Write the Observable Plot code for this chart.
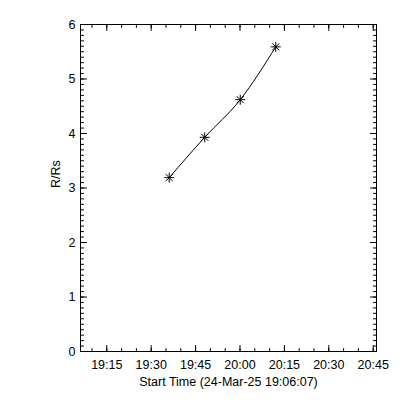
<!DOCTYPE html>
<html><head><meta charset="utf-8">
<script src="https://cdn.jsdelivr.net/npm/d3@7"></script>
<script src="https://cdn.jsdelivr.net/npm/@observablehq/plot@0.6"></script>
<style>html,body{margin:0;padding:0;background:#fff}</style>
</head><body><div id="chart"></div>
<script>
// ---- data ----
const dayPrefix = "2025-03-24T";
const startTime = "19:06:07";
const endTime = "20:46:07";
const times = ["19:36:05", "19:48:05", "20:00:05", "20:12:05"];
const heights = [3.19, 3.93, 4.62, 5.59];
const xTickLabels = ["19:15", "19:30", "19:45", "20:00", "20:15", "20:30", "20:45"];
const yTickLabels = ["0", "1", "2", "3", "4", "5", "6"];
const xTitle = "Start Time (24-Mar-25 19:06:07)";
const yTitle = "R/Rs";

const toDate = (s) => new Date(dayPrefix + (s.length === 5 ? s + ":00" : s) + "Z");
const data = times.map((t, i) => ({time: toDate(t), r: heights[i]}));
const xMajor = xTickLabels.map(toDate);
const xMinor = d3.utcMinute.every(5).range(toDate(startTime), toDate(endTime));
const yMajor = yTickLabels.map(Number);
const yMinor = d3.range(0, 61).map((i) => i / 10);

const tickShape = {draw(ctx, l) { ctx.moveTo(0, 0); ctx.lineTo(0, -l); }};
const asterisk = {
  draw(ctx, size) {
    const r = Math.sqrt(size / Math.PI);
    const d = r * Math.SQRT1_2;
    ctx.moveTo(-r, 0); ctx.lineTo(r, 0);
    ctx.moveTo(0, -r); ctx.lineTo(0, r);
    ctx.moveTo(-d, -d); ctx.lineTo(d, d);
    ctx.moveTo(-d, d); ctx.lineTo(d, -d);
  }
};

const font = "Liberation Sans";
const fs = 12.5;
const tick = (arr, opts) => Plot.vector(arr, {anchor: "start", shape: tickShape, stroke: "black", strokeWidth: 1, ...opts});

const chart = Plot.plot({
  width: 400,
  height: 400,
  marginLeft: 80,
  marginRight: 24,
  marginTop: 24,
  marginBottom: 49,
  style: {fontFamily: font, fontSize: fs + "px", background: "#fff", color: "black"},
  x: {type: "utc", domain: [toDate(startTime), toDate(endTime)], axis: null},
  y: {domain: [0, 6], axis: null},
  marks: [
    Plot.frame({stroke: "black"}),
    // x ticks bottom & top
    tick(xMinor, {x: (d) => d, frameAnchor: "bottom", length: 3, rotate: 0}),
    tick(xMajor, {x: (d) => d, frameAnchor: "bottom", length: 6, rotate: 0}),
    tick(xMinor, {x: (d) => d, frameAnchor: "top", length: 3, rotate: 180}),
    tick(xMajor, {x: (d) => d, frameAnchor: "top", length: 6, rotate: 180}),
    // y ticks left & right
    tick(yMinor, {y: (d) => d, frameAnchor: "left", length: 3, rotate: 90}),
    tick(yMajor, {y: (d) => d, frameAnchor: "left", length: 6, rotate: 90}),
    tick(yMinor, {y: (d) => d, frameAnchor: "right", length: 3, rotate: -90}),
    tick(yMajor, {y: (d) => d, frameAnchor: "right", length: 6, rotate: -90}),
    // tick labels
    Plot.text(xTickLabels, {x: (l) => toDate(l), text: (l) => l, frameAnchor: "bottom", lineAnchor: "top", dy: 9, fontSize: fs, fill: "black"}),
    Plot.text(yTickLabels, {y: (l) => +l, text: (l) => l, frameAnchor: "left", textAnchor: "end", dx: -5, fontSize: fs, fill: "black"}),
    // titles
    Plot.text([xTitle], {frameAnchor: "bottom", lineAnchor: "top", dy: 26, text: (d) => d, fontSize: fs, fill: "black"}),
    Plot.text([yTitle], {frameAnchor: "left", dx: -25, rotate: -90, text: (d) => d, fontSize: fs, fill: "black"}),
    // data
    Plot.line(data, {x: "time", y: "r", curve: "monotone-x", stroke: "black", strokeWidth: 1}),
    Plot.dot(data, {x: "time", y: "r", symbol: asterisk, r: 5, stroke: "black", fill: "none", strokeWidth: 1})
  ]
});
document.getElementById("chart").appendChild(chart);
</script>
</body></html>
